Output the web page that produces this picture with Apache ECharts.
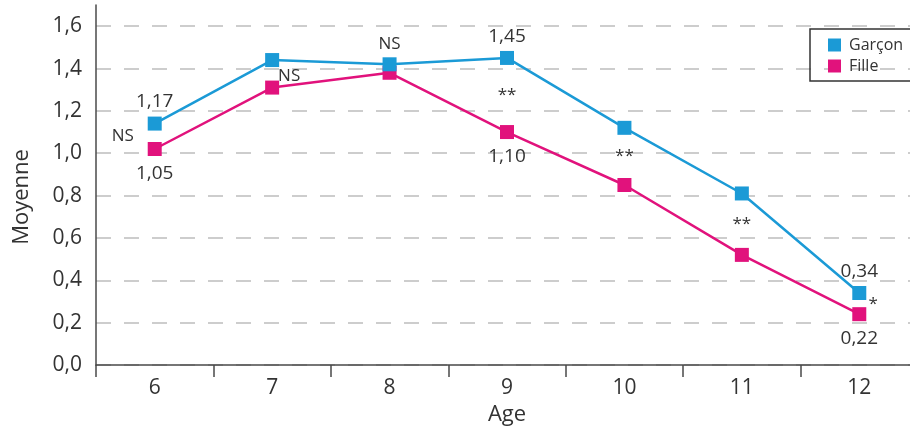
<!DOCTYPE html>
<html>
<head>
<meta charset="utf-8">
<script src="https://cdn.jsdelivr.net/npm/echarts@6/dist/echarts.min.js"></script>
<style>html,body{margin:0;padding:0;background:#fff;}#c{width:910px;height:434px;}</style>
</head>
<body>
<div id="c"></div>
<script>
const categories = ['6', '7', '8', '9', '10', '11', '12'];
const garcon = [1.14, 1.44, 1.42, 1.45, 1.12, 0.81, 0.34];
const fille = [1.02, 1.31, 1.38, 1.10, 0.85, 0.52, 0.24];
const garconLabels = ['1,17', '', '', '1,45', '', '', '0,34'];
const filleLabels = ['1,05', '', '', '1,10', '', '', '0,22'];
const signif = ['NS', 'NS', 'NS', '**', '**', '**', '*'];
const yTicks = [0, 0.2, 0.4, 0.6, 0.8, 1.0, 1.2, 1.4, 1.6];

const FONT = '"Open Sans", "Noto Sans", sans-serif';
const TXT = '#333333';
const BLUE = '#1b9ad6';
const PINK = '#e1127c';

// offsets for significance marks (style only)
const sigOffsets = [[-32, 0], [17, 2], [0, -24], [0, 0], [0, 0], [0, 0], [14, 1]];

const gData = garcon.map((v, i) => ({
  value: v,
  label: { show: garconLabels[i] !== '', formatter: garconLabels[i], position: 'top', distance: 5 }
}));
const fData = fille.map((v, i) => ({
  value: v,
  label: { show: filleLabels[i] !== '', formatter: filleLabels[i], position: 'bottom', distance: 8 }
}));
const sData = signif.map((s, i) => ({
  value: (garcon[i] + fille[i]) / 2,
  label: { formatter: s, offset: sigOffsets[i] }
}));

const chart = echarts.init(document.getElementById('c'), null, { renderer: 'canvas' });
chart.setOption({
  animation: false,
  textStyle: { fontFamily: FONT },
  grid: { left: 96, width: 822, top: 5, height: 360, outerBoundsMode: 'none', containLabel: false },
  legend: {
    data: ['Garçon', 'Fille'],
    orient: 'vertical',
    left: 810, top: 29,
    icon: 'rect',
    itemWidth: 13, itemHeight: 13, itemGap: 5,
    padding: [8, 40, 7, 18],
    borderColor: '#333', borderWidth: 1.5,
    textStyle: { fontSize: 16, color: TXT, fontFamily: FONT, padding: [0, 0, 0, 3] }
  },
  xAxis: {
    type: 'category',
    data: categories,
    boundaryGap: true,
    name: 'Age',
    nameLocation: 'middle',
    nameGap: 39,
    nameTextStyle: { fontSize: 22, color: TXT, fontFamily: FONT },
    axisLine: { lineStyle: { color: '#4a4a4a', width: 1.5 } },
    axisTick: { show: true, length: 12, lineStyle: { color: '#4a4a4a', width: 1.5 } },
    axisLabel: { fontSize: 21, color: TXT, margin: 13, fontFamily: FONT },
    splitLine: { show: false }
  },
  yAxis: {
    type: 'value',
    min: 0, max: 1.7, interval: 0.2,
    name: 'Moyenne',
    nameLocation: 'middle',
    nameGap: 63,
    nameTextStyle: { fontSize: 22, color: TXT, fontFamily: FONT, padding: [0, 24, 0, 0] },
    axisLine: { show: true, lineStyle: { color: '#4a4a4a', width: 1.5 } },
    axisTick: { show: false },
    axisLabel: {
      fontSize: 21, color: TXT, margin: 14, fontFamily: FONT,
      formatter: v => yTicks.some(t => Math.abs(t - v) < 1e-6) ? v.toFixed(1).replace('.', ',') : ''
    },
    splitLine: {
      show: true,
      lineStyle: {
        color: ['#bdbdbd', '#bdbdbd', '#bdbdbd', '#bdbdbd', '#bdbdbd', '#bdbdbd', '#bdbdbd', '#bdbdbd', '#bdbdbd', 'rgba(0,0,0,0)'],
        width: 1.5, type: [15, 13]
      }
    }
  },
  series: [
    {
      name: 'Fille', type: 'line', data: fData,
      symbol: 'rect', symbolSize: 14,
      itemStyle: { color: PINK },
      lineStyle: { color: PINK, width: 2.5 },
      label: { color: TXT, fontSize: 19, fontFamily: FONT },
      z: 3
    },
    {
      name: 'Garçon', type: 'line', data: gData,
      symbol: 'rect', symbolSize: 14,
      itemStyle: { color: BLUE },
      lineStyle: { color: BLUE, width: 2.5 },
      label: { color: TXT, fontSize: 19, fontFamily: FONT },
      z: 4
    },
    {
      name: 'sig', type: 'scatter', data: sData,
      symbolSize: 0, silent: true,
      label: { show: true, position: 'inside', color: TXT, textBorderWidth: 0, opacity: 1, fontSize: 17, fontFamily: FONT },
      z: 5
    }
  ]
});
</script>
</body>
</html>
